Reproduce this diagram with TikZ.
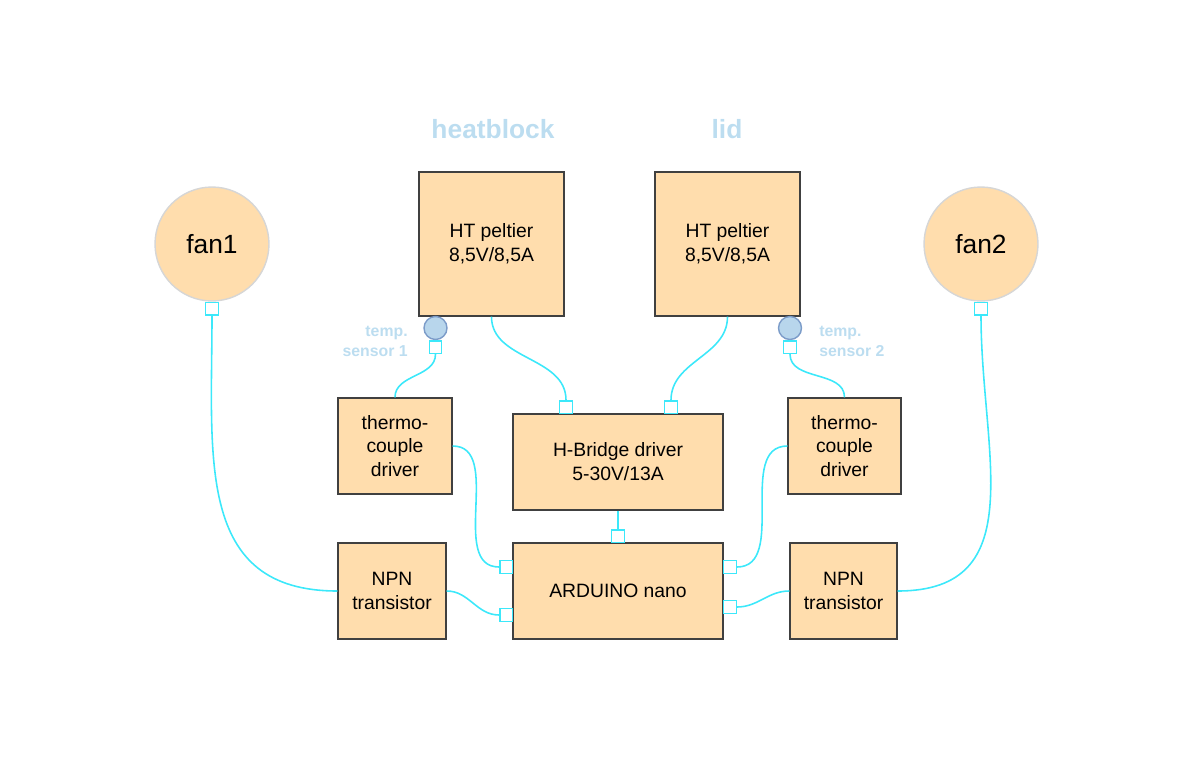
\documentclass[tikz,border=0pt]{standalone}
\usepackage{fontspec}
\setmainfont{Liberation Sans}
\usepackage{tikz}
\definecolor{boxFill}{HTML}{FFDDAD}
\definecolor{boxLine}{HTML}{404040}
\definecolor{fanLine}{HTML}{D6D6D6}
\definecolor{sensFill}{HTML}{B8D6EC}
\definecolor{sensLine}{HTML}{7C9CC9}
\definecolor{noteBlue}{HTML}{BCDDF0}
\definecolor{wireCyan}{HTML}{3CE8FA}

\begin{document}
\begin{tikzpicture}[x = 0.02cm, y = -0.02cm,
		block/.style = {draw = boxLine, fill = boxFill, line width = 0.8pt, align = center, inner sep = 0pt, minimum height = 1.92cm, font = \fontsize{11}{13.6}\selectfont},
		fan/.style = {circle, draw = fanLine, fill = boxFill, line width = 0.8pt, minimum size = 2.28cm, font = \fontsize{15}{18}\selectfont},
		sensor/.style = {circle, draw = sensLine, fill = sensFill, line width = 0.8pt, minimum size = 0.46cm, inner sep = 0pt},
		port/.style = {draw = wireCyan, fill = white, line width = 0.8pt, minimum size = 0.25cm, inner sep = 0pt},
		wire/.style = {draw = wireCyan, line width = 0.9pt},
		title/.style = {text = noteBlue, font = \bfseries\fontsize{15}{18}\selectfont},
		note/.style = {text = noteBlue, inner sep = 0pt, font = \bfseries\fontsize{9}{11.3}\selectfont}]
		\useasboundingbox (0, 0) rectangle (1200, 765);
		%%%%%%%%%%%%%
		\node[fan] (fan1) at (212, 244) {fan1};
		\node[fan] (fan2) at (981, 244) {fan2};
		\node[port, anchor = north] (fp1) at (fan1.south) {};
		\node[port, anchor = north] (fp2) at (fan2.south) {};
		\node[title] (hblk) at (493, 129) {heatblock};
		\node[title] (lid) at (727, 129) {lid};
		\node[block, minimum width = 2.9cm, minimum height = 2.88cm] (pel1) at (491.5, 244) {HT peltier\\8,5V/8,5A};
		\node[block, minimum width = 2.9cm, minimum height = 2.88cm] (pel2) at (727.5, 244) {HT peltier\\8,5V/8,5A};
		\node[sensor] (sen1) at (435.5, 328) {};
		\node[sensor] (sen2) at (790, 328) {};
		\node[port, anchor = north] (sp1) at (sen1.south) {};
		\node[port, anchor = north] (sp2) at (sen2.south) {};
		\node[note, align = right, anchor = east] (tn1) at (408, 341) {temp.\\sensor 1};
		\node[note, align = left, anchor = west] (tn2) at (819, 341) {temp.\\sensor 2};
		\node[block, minimum width = 2.28cm] (th1) at (395, 446) {thermo-\\couple\\driver};
		\node[block, minimum width = 2.26cm] (th2) at (844.5, 446) {thermo-\\couple\\driver};
		\node[block, minimum width = 4.2cm] (hb) at (618, 462) {H-Bridge driver\\5-30V/13A};
		\node[block, minimum width = 4.2cm] (ard) at (618, 591) {ARDUINO nano};
		\node[block, minimum width = 2.16cm] (npn1) at (392, 591) {NPN\\transistor};
		\node[block, minimum width = 2.14cm] (npn2) at (843.5, 591) {NPN\\transistor};
		%%%%%%%%%%%%%
		\node[port, anchor = south] (hp1) at (566, 414) {};
		\node[port, anchor = south] (hp2) at (671, 414) {};
		\node[port, anchor = south] (ap0) at (618, 543) {};
		\node[port, anchor = east] (ap1) at (513, 567) {};
		\node[port, anchor = east] (ap2) at (513, 615) {};
		\node[port, anchor = west] (ap3) at (723, 567) {};
		\node[port, anchor = west] (ap4) at (723, 607) {};
		%%%%%%%%%%%%%%%%%%%%%%
		\draw[wire] (fp1.south) to[out = -90, in = 180, looseness = 1.2] (npn1.west);
		\draw[wire] (fp2.south) to[out = -90, in = 0, looseness = 1.2] (npn2.east);
		\draw[wire] (pel1.south) to[out = -90, in = 90] (hp1.north);
		\draw[wire] (pel2.south) to[out = -90, in = 90] (hp2.north);
		\draw[wire] (sp1.south) to[out = -90, in = 90] (th1.north);
		\draw[wire] (sp2.south) to[out = -90, in = 90] (th2.north);
		\draw[wire] (th1.east) to[out = 0, in = 180] (ap1.west);
		\draw[wire] (npn1.east) to[out = 0, in = 180] (ap2.west);
		\draw[wire] (th2.west) to[out = 180, in = 0] (ap3.east);
		\draw[wire] (npn2.west) to[out = 180, in = 0] (ap4.east);
		\draw[wire] (hb.south) -- (ap0.north);
\end{tikzpicture}
\end{document}
